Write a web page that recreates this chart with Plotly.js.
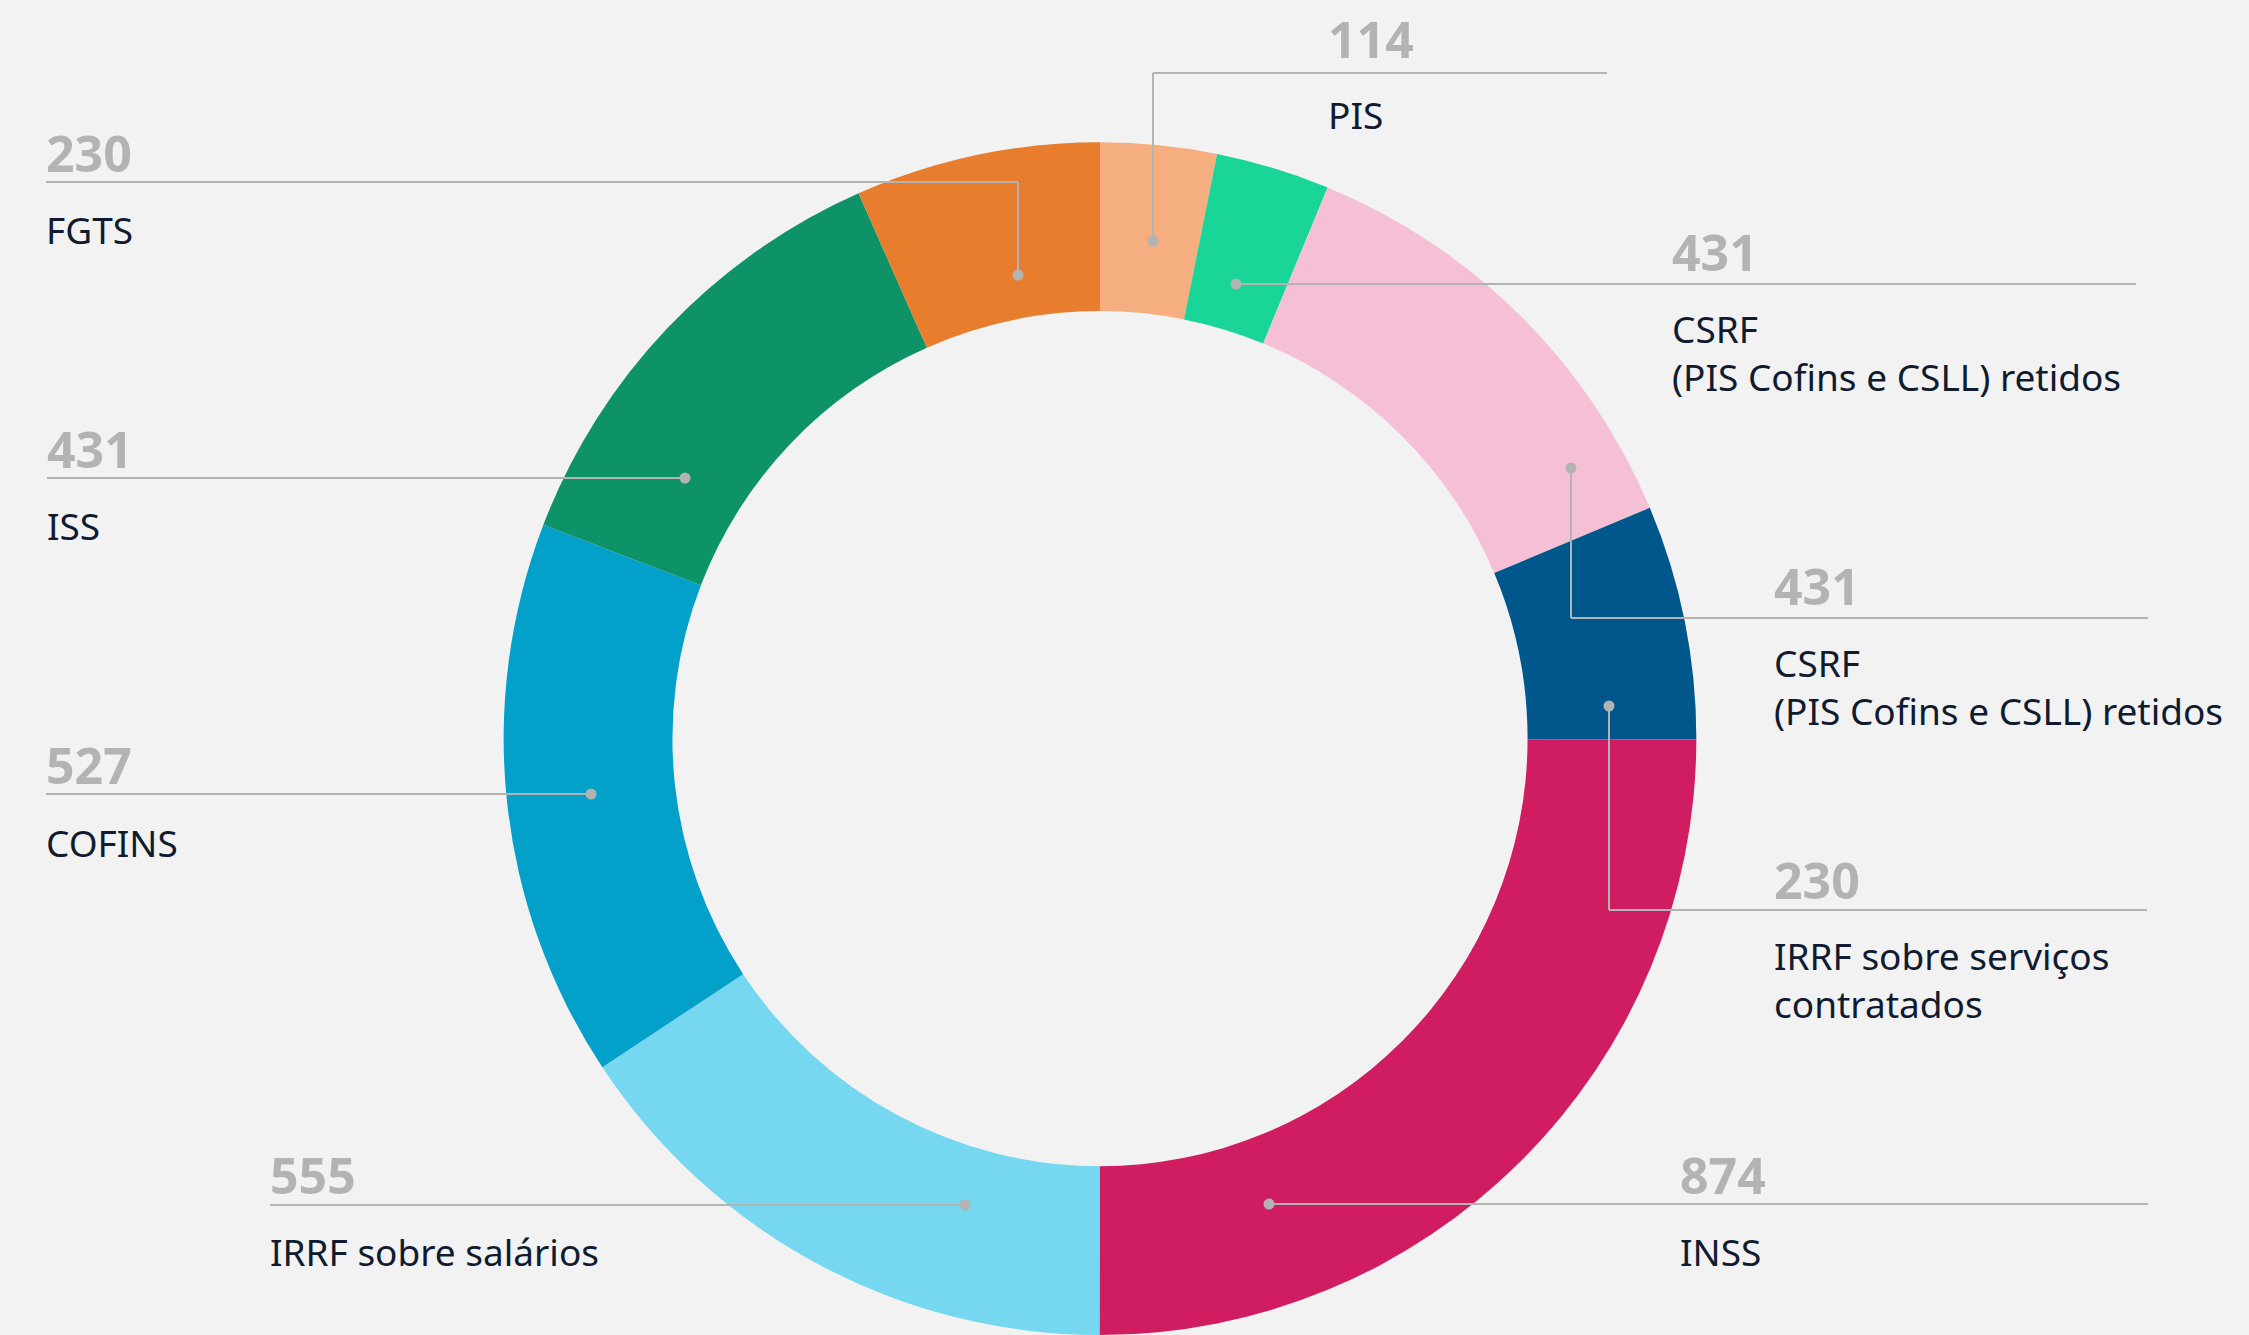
<!DOCTYPE html>
<html>
<head>
<meta charset="utf-8">
<script src="https://cdn.plot.ly/plotly-3.0.1.min.js"></script>
<style>
  html, body { margin: 0; padding: 0; background: #f2f2f2; overflow: hidden; }
  #chart { width: 2249px; height: 1335px; }
</style>
</head>
<body>
<div id="chart"></div>
<script>
// ---- data ----
// slices in clockwise order from 12 o'clock
const categories = [
  'PIS',
  'CSRF\n(PIS Cofins e CSLL) retidos',
  'CSRF\n(PIS Cofins e CSLL) retidos',
  'IRRF sobre serviços\ncontratados',
  'INSS',
  'IRRF sobre salários',
  'COFINS',
  'ISS',
  'FGTS'
];
// numbers printed next to each label
const labelValues = [114, 431, 431, 230, 874, 555, 527, 431, 230];
// slice sizes as drawn in the ring
const sliceValues = [110, 108, 435, 222, 874, 549, 529, 438, 232];
const sliceColors = ['#f5ae80', '#19d598', '#f5c0d5', '#00578b', '#d01c60',
                     '#75d8f0', '#03a0c9', '#0e9368', '#e87d2e'];

// ---- layout of labels and leader lines (pixels) ----
// tx: text left, ly: leader line y, lx0/lx1: horizontal extent, dx/dy: dot,
// no/lo: offsets of number centre above / label centre below the line
const leaderLayout = [
  {tx: 1326, ly: 73,   lx0: 1153, lx1: 1607, dx: 1153, dy: 241, no: 34, lo: 42},
  {tx: 1670, ly: 284,  lx0: 1236, lx1: 2136, dx: 1236, dy: 284, no: 32, lo: 44},
  {tx: 1772, ly: 618,  lx0: 1571, lx1: 2148, dx: 1571, dy: 468, no: 32, lo: 44},
  {tx: 1772, ly: 910,  lx0: 1609, lx1: 2147, dx: 1609, dy: 706, no: 30, lo: 45},
  {tx: 1678, ly: 1204, lx0: 1269, lx1: 2148, dx: 1269, dy: 1204, no: 29, lo: 47},
  {tx: 268,  ly: 1205, lx0: 270,  lx1: 965,  dx: 965,  dy: 1205, no: 30, lo: 46},
  {tx: 44,   ly: 794,  lx0: 46,   lx1: 591,  dx: 591,  dy: 794, no: 29, lo: 48},
  {tx: 45,   ly: 478,  lx0: 47,   lx1: 685,  dx: 685,  dy: 478, no: 29, lo: 47},
  {tx: 44,   ly: 182,  lx0: 46,   lx1: 1018, dx: 1018, dy: 275, no: 29, lo: 48}
];

const W = 2249, H = 1335;
const X = p => p / W;
const Y = p => 1 - p / H;
const LINE_COLOR = '#b3b3b3';
const DOT_R = 5.5;
const LABEL_SIZE = 37;
const LINE_GAP = LABEL_SIZE * 1.3;   // Plotly's multi-line spacing

const shapes = [];
const annotations = [];

leaderLayout.forEach((L, i) => {
  shapes.push({type: 'line', xref: 'paper', yref: 'paper',
    x0: X(L.lx0), x1: X(L.lx1), y0: Y(L.ly), y1: Y(L.ly),
    line: {color: LINE_COLOR, width: 2}});
  if (L.dy !== L.ly) {
    shapes.push({type: 'line', xref: 'paper', yref: 'paper',
      x0: X(L.dx), x1: X(L.dx), y0: Y(L.ly), y1: Y(L.dy),
      line: {color: LINE_COLOR, width: 2}});
  }
  shapes.push({type: 'circle', xref: 'paper', yref: 'paper',
    x0: X(L.dx - DOT_R), x1: X(L.dx + DOT_R),
    y0: Y(L.dy + DOT_R), y1: Y(L.dy - DOT_R),
    fillcolor: LINE_COLOR, line: {width: 0}});

  annotations.push({xref: 'paper', yref: 'paper', x: X(L.tx), y: Y(L.ly - L.no),
    xanchor: 'left', yanchor: 'middle', showarrow: false,
    text: String(labelValues[i]),
    font: {family: '"Open Sans", "DejaVu Sans", sans-serif', size: 50, weight: 700, color: '#b3b3b3'}});

  const lines = categories[i].split('\n');
  const centre = L.ly + L.lo + (lines.length - 1) * LINE_GAP / 2;
  annotations.push({xref: 'paper', yref: 'paper', x: X(L.tx), y: Y(centre),
    xanchor: 'left', yanchor: 'middle', align: 'left', showarrow: false,
    text: lines.join('<br>'),
    font: {family: '"Noto Sans", "DejaVu Sans", sans-serif', size: LABEL_SIZE, color: '#101b30'}});
});

const trace = {
  type: 'pie',
  values: sliceValues,
  labels: categories.map((c, i) => (i + 1) + '. ' + c.replace('\n', ' ')),
  sort: false,
  direction: 'clockwise',
  rotation: 0,
  hole: 0.717,
  textinfo: 'none',
  hoverinfo: 'label+value',
  marker: {colors: sliceColors, line: {width: 0}},
  domain: {x: [0.22379, 0.75442], y: [0, 0.8934]},
  showlegend: false
};

const layout = {
  width: W, height: H,
  margin: {l: 0, r: 0, t: 0, b: 0},
  paper_bgcolor: '#f2f2f2',
  plot_bgcolor: '#f2f2f2',
  showlegend: false,
  shapes: shapes,
  annotations: annotations
};

Plotly.newPlot('chart', [trace], layout, {displayModeBar: false, staticPlot: true});
</script>
</body>
</html>
